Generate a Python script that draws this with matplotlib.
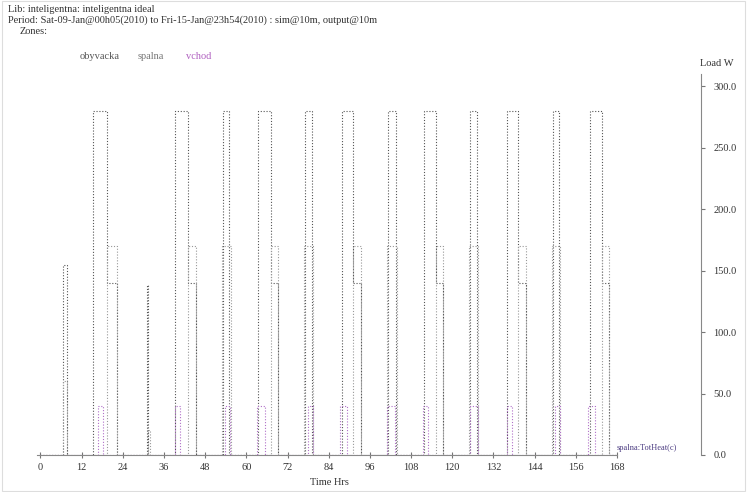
import matplotlib.pyplot as plt
from matplotlib.patches import Rectangle

# ----------- DATA -------------------------------------
hour_ticks = list(range(0, 169, 12))
load_ticks = [0, 50, 100, 150, 200, 250, 300]

# obyvacka: segments (start hr, end hr, load W)
oby_start = [6.6, 15.4, 19.5, 31.1, 39.3, 43.1, 53.3, 63.5, 67.2, 77.1, 87.9, 91.1,
             101.3, 111.8, 115.3, 125.2, 136.0, 139.2, 149.3, 160.1, 163.6]
oby_end = [7.6, 19.5, 22.4, 31.4, 43.1, 45.4, 55.0, 67.2, 69.3, 79.2, 91.1, 93.5,
           103.6, 115.3, 117.4, 127.2, 139.2, 141.5, 151.1, 163.6, 165.6]
oby_load = [155, 280, 140, 138, 280, 140, 280, 280, 140, 280, 280, 140,
            280, 280, 140, 280, 280, 140, 280, 280, 140]

# spalna
spa_start = [6.7, 19.5, 31.2, 43.1, 53.0, 67.2, 76.9, 91.1, 101.0, 115.3, 125.0, 139.2, 149.1, 163.6]
spa_end = [7.8, 22.4, 31.9, 45.4, 55.4, 69.3, 79.5, 93.5, 103.9, 117.4, 127.5, 141.5, 151.4, 165.6]
spa_load = [60, 170, 20, 170, 170, 170, 170, 170, 170, 170, 170, 170, 170, 170]

# vchod
vch_start = [16.9, 39.3, 53.9, 63.2, 78.0, 87.3, 101.0, 111.5, 125.2, 136.0, 150.0, 159.5]
vch_end = [18.3, 40.8, 55.3, 65.5, 79.5, 89.4, 103.3, 113.0, 127.5, 137.4, 151.4, 161.6]
vch_load = [40, 40, 40, 40, 40, 40, 40, 40, 40, 40, 40, 40]


def steps(starts, ends, loads):
    xs, ys = [0], [0]
    for i, (s, e, v) in enumerate(zip(starts, ends, loads)):
        if xs[-1] != s:
            xs += [s]
            ys += [0]
        xs += [s, e]
        ys += [v, v]
        nxt = starts[i + 1] if i + 1 < len(starts) else None
        if nxt != e:
            xs += [e]
            ys += [0]
    xs.append(168)
    ys.append(0)
    return xs, ys


plt.rcParams['font.family'] = ['Liberation Serif', 'DejaVu Serif']
txt = '#333333'

fig = plt.figure(figsize=(7.47, 4.92), dpi=100)
fig.patches.append(Rectangle((0.003, 0.003), 0.994, 0.994, transform=fig.transFigure,
                             fill=False, edgecolor='#dddddd', linewidth=0.8))

ax = fig.add_axes([37 / 747, 37 / 492, 580 / 747, 381 / 492])

dot = (0, (1, 1.6))
for (s, e, v), col in [((oby_start, oby_end, oby_load), '#555555'),
                       ((spa_start, spa_end, spa_load), '#999999'),
                       ((vch_start, vch_end, vch_load), '#b070c8')]:
    x, y = steps(s, e, v)
    ax.plot(x, y, color=col, linestyle=dot, linewidth=0.8)

ax.set_xlim(-1, 168)
ax.set_ylim(0, 310)
ax.set_xticks(hour_ticks)
ax.set_yticks(load_ticks)
ax.set_yticklabels([f'{v:.1f}' for v in load_ticks])

for side in ['top', 'left']:
    ax.spines[side].set_visible(False)
ax.spines['bottom'].set_color('#888888')
ax.spines['right'].set_color('#888888')
ax.spines['right'].set_position(('axes', (701 - 37) / 580))
ax.yaxis.tick_right()
ax.tick_params(axis='x', direction='inout', length=5, width=0.8, color='#777777',
               labelsize=7.5, labelcolor=txt, pad=3)
ax.tick_params(axis='y', direction='out', length=3, width=0.8, color='#777777',
               labelsize=7.5, labelcolor=txt, pad=6)
ax.patch.set_alpha(0)

# header text
fig.text(8 / 747, 1 - 12 / 492, 'Lib: inteligentna: inteligentna ideal', fontsize=7.5, color=txt)
fig.text(8 / 747, 1 - 23 / 492,
         'Period: Sat-09-Jan@00h05(2010) to Fri-15-Jan@23h54(2010) : sim@10m, output@10m',
         fontsize=7.5, color=txt)
fig.text(20 / 747, 1 - 34 / 492, 'Zones:', fontsize=7.5, color=txt)
fig.text(80 / 747, 1 - 59 / 492, 'obyvacka', fontsize=7.5, color='#555555')
fig.text(138 / 747, 1 - 59 / 492, 'spalna', fontsize=7.5, color='#777777')
fig.text(186 / 747, 1 - 59 / 492, 'vchod', fontsize=7.5, color='#b060c0')

fig.text(700 / 747, 1 - 66 / 492, 'Load W', fontsize=7.5, color=txt)
fig.text(329 / 747, 1 - 485 / 492, 'Time Hrs', fontsize=7.5, color=txt, ha='center')
fig.text(617 / 747, 1 - 450 / 492, 'spalna:TotHeat(c)', fontsize=6, color='#4a3a80')

fig.savefig('out.png', dpi=100)
